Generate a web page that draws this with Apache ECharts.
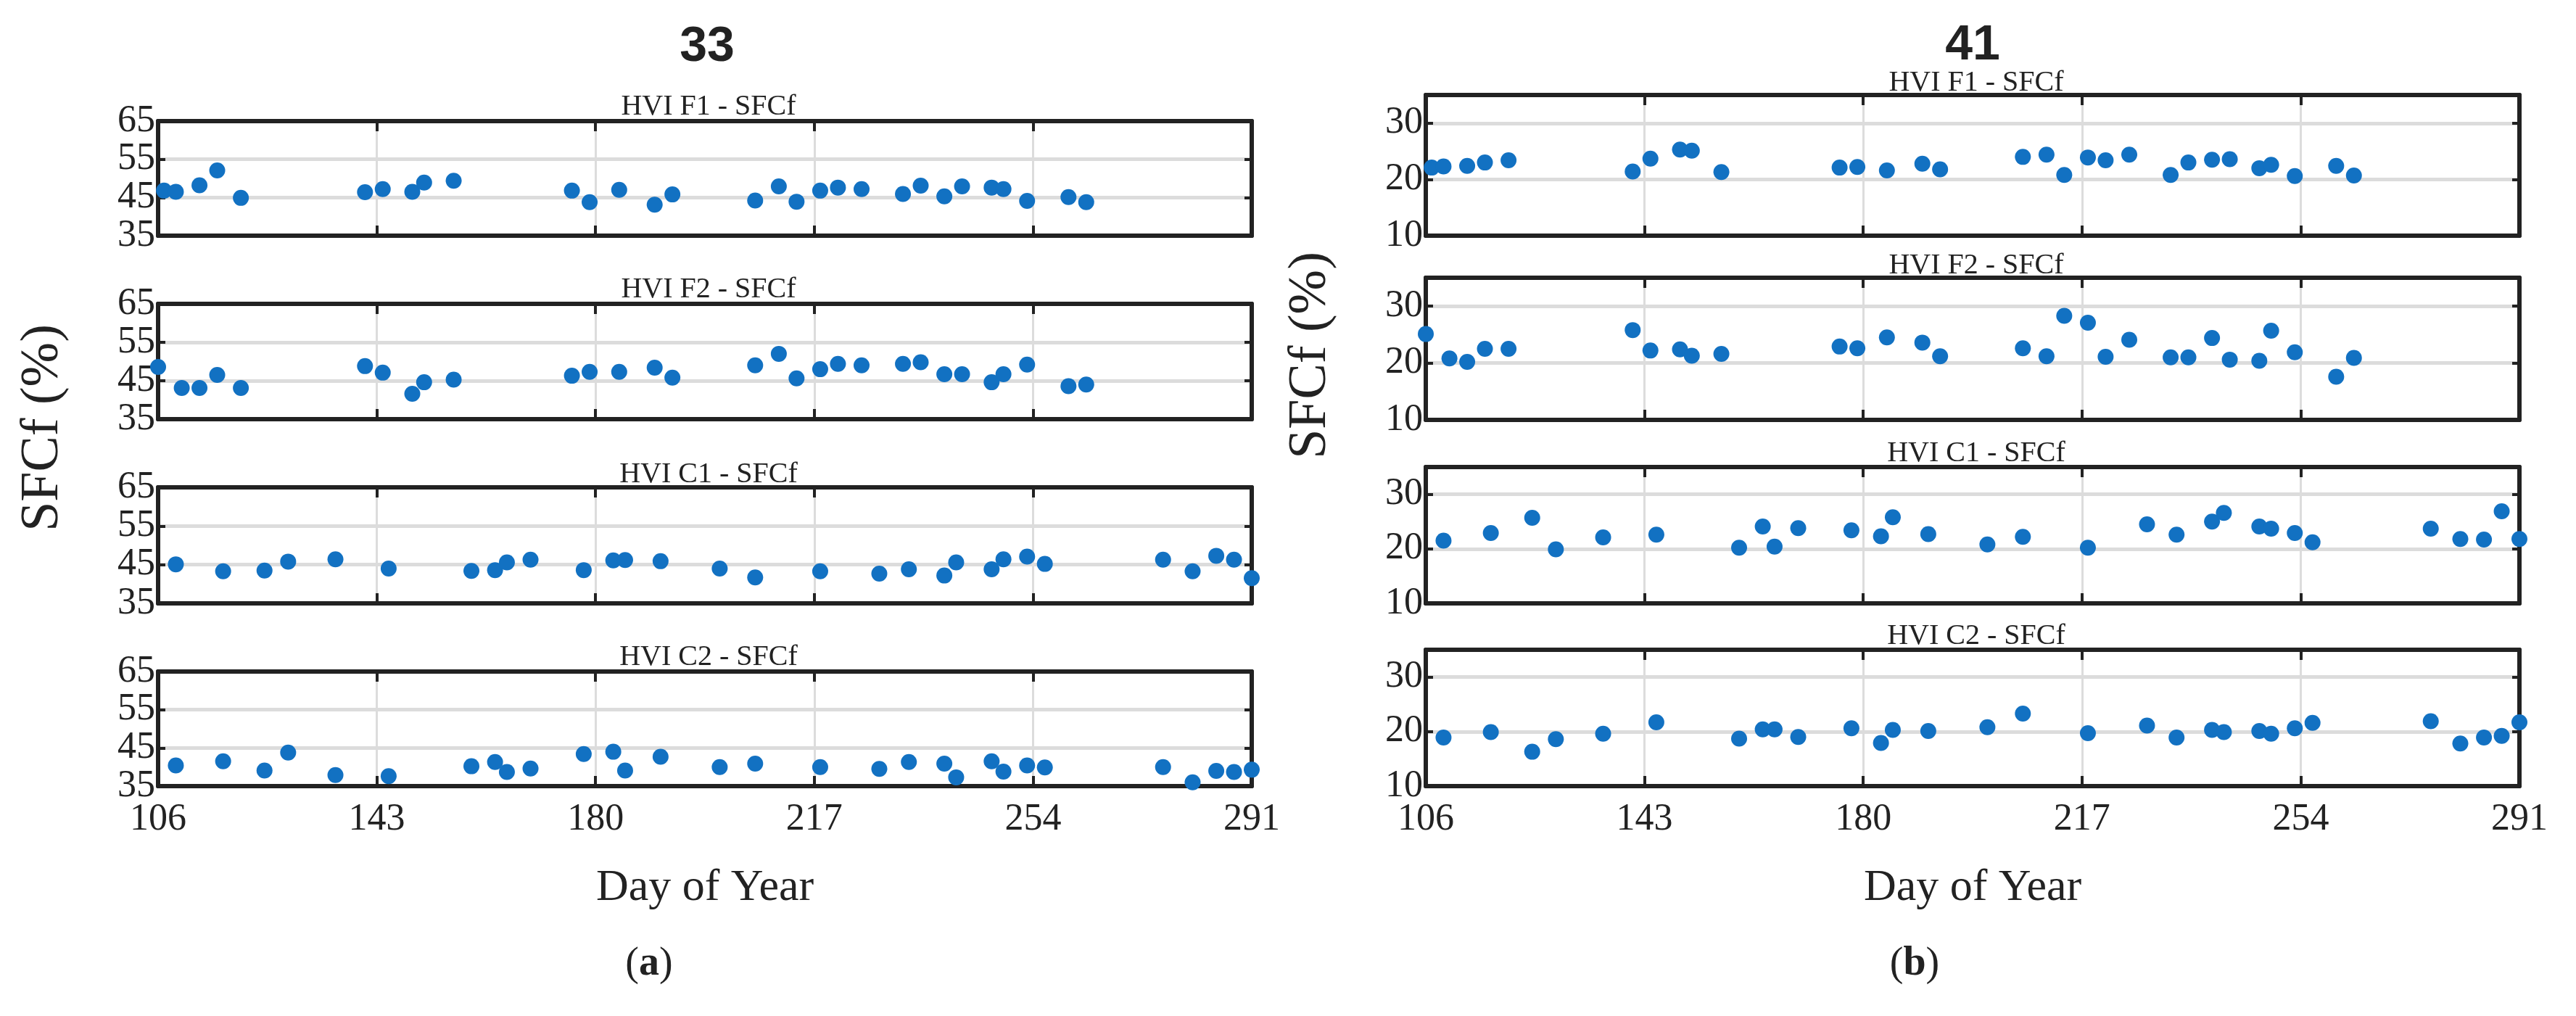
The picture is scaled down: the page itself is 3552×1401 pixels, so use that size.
<!DOCTYPE html>
<html>
<head>
<meta charset="utf-8">
<script src="https://cdn.jsdelivr.net/npm/echarts@6/dist/echarts.min.js"></script>
<style>html,body{margin:0;background:#fff}#c{width:3552px;height:1401px}</style>
</head>
<body>
<div id="c"></div>
<script>
// day of year for each series
var daysF1 = [107,109,113,116,120,141,144,149,151,156,176,179,184,190,193,207,211,214,218,221,225,232,235,239,242,247,249,253,260,263];
var daysF2 = [106,110,113,116,120,141,144,149,151,156,176,179,184,190,193,207,211,214,218,221,225,232,235,239,242,247,249,253,260,263];
var daysC = [109,117,124,128,136,145,159,163,165,169,178,183,185,191,201,207,218,228,233,239,241,247,249,253,256,276,281,285,288,291];
var xTicks = [106,143,180,217,254,291];
var panelNames = ['HVI F1 - SFCf','HVI F2 - SFCf','HVI C1 - SFCf','HVI C2 - SFCf'];

// site 33
var a_F1 = [46.8,46.5,48.2,52.1,44.9,46.4,47.2,46.5,48.9,49.4,46.8,43.8,47.0,43.1,45.8,44.2,47.9,43.9,46.8,47.6,47.2,45.9,48.1,45.3,47.9,47.6,47.2,44.1,45.1,43.8];
var a_F2 = [48.6,43.1,43.1,46.5,43.1,48.8,47.1,41.6,44.6,45.3,46.3,47.3,47.3,48.4,45.8,49.0,52.0,45.6,48.0,49.4,49.0,49.4,49.8,46.7,46.7,44.6,46.7,49.2,43.6,44.0];
var a_C1 = [45.1,43.3,43.5,45.8,46.4,44.0,43.4,43.6,45.6,46.3,43.6,46.1,46.2,45.9,44.0,41.7,43.3,42.7,43.8,42.2,45.6,43.8,46.4,47.1,45.2,46.3,43.3,47.3,46.3,41.5];
var a_C2 = [40.4,41.5,39.1,43.8,37.9,37.6,40.2,41.3,38.7,39.6,43.4,44.0,39.1,42.7,40.0,40.9,40.0,39.5,41.3,40.9,37.3,41.5,38.8,40.4,39.9,40.0,36.0,39.0,38.7,39.3];

// site 41
var b_F1 = [22.1,22.3,22.4,23.0,23.4,21.4,23.7,25.3,25.1,21.3,22.1,22.2,21.6,22.8,21.8,24.0,24.4,20.8,23.9,23.4,24.4,20.8,23.0,23.5,23.6,22.0,22.6,20.6,22.4,20.7];
var b_F2 = [25.1,20.8,20.2,22.5,22.5,25.8,22.2,22.4,21.3,21.6,22.9,22.6,24.5,23.6,21.2,22.6,21.2,28.3,27.1,21.1,24.1,21.0,21.0,24.4,20.6,20.4,25.7,21.9,17.6,20.9];
var b_C1 = [21.5,22.9,25.7,19.9,22.1,22.6,20.2,24.1,20.4,23.8,23.4,22.3,25.8,22.7,20.8,22.2,20.2,24.5,22.6,25.0,26.6,24.1,23.7,22.9,21.2,23.7,21.8,21.7,26.9,21.8];
var b_C2 = [18.9,19.9,16.3,18.6,19.6,21.7,18.7,20.4,20.4,19.0,20.6,17.9,20.3,20.1,20.8,23.3,19.7,21.1,18.9,20.3,19.9,20.1,19.6,20.6,21.6,21.9,17.8,18.9,19.2,21.7];

var serif = 'Liberation Serif';
var ink = '#222';
var panels = [
  {left: 218, right: 3552 - 1726, tops: [167,419,672,926], bottoms: [325,578,832,1084], sub: [145,397,652,904],
   min: 35, max: 65, interval: 10, data: [a_F1,a_F2,a_C1,a_C2]},
  {left: 1966, right: 3552 - 3474, tops: [131,383,644,896], bottoms: [325,579,832,1084], sub: [112,364,623,875],
   min: 10, max: 35, interval: 10, data: [b_F1,b_F2,b_C1,b_C2]}
];
var dayLists = [daysF1, daysF2, daysC, daysC];

var frame = {show: true, onZero: false, lineStyle: {color: ink, width: 6}};
var tick = {show: true, inside: true, length: 14, lineStyle: {color: ink, width: 4}};

var grids = [], xAxes = [], yAxes = [], series = [], titles = [];
panels.forEach(function (p) {
  for (var k = 0; k < 4; k++) {
    var gi = grids.length;
    grids.push({left: p.left, right: p.right, top: p.tops[k], height: p.bottoms[k] - p.tops[k]});
    var last = k === 3;
    xAxes.push({gridIndex: gi, type: 'value', min: 106, max: 291, interval: 37, z: 3,
      axisLine: frame, axisTick: tick,
      splitLine: {show: true, lineStyle: {color: '#dcdcdc', width: 3}},
      axisLabel: {show: last, color: ink, fontFamily: serif, fontSize: 52, margin: 20},
      name: last ? 'Day of Year' : '', nameLocation: 'middle', nameGap: 110,
      nameTextStyle: {color: ink, fontFamily: serif, fontSize: 62}});
    xAxes.push({gridIndex: gi, type: 'value', min: 106, max: 291, interval: 37, position: 'top', z: 3,
      axisLine: frame, axisLabel: {show: false}, splitLine: {show: false}, axisTick: tick});
    yAxes.push({gridIndex: gi, type: 'value', min: p.min, max: p.max, interval: p.interval, z: 3,
      axisLine: frame, axisTick: {show: true, inside: true, length: 10, lineStyle: {color: ink, width: 4}},
      splitLine: {show: true, lineStyle: {color: '#dcdcdc', width: 5}},
      axisLabel: {color: ink, fontFamily: serif, fontSize: 52, margin: 4,
        showMaxLabel: (p.max - p.min) % p.interval === 0}});
    yAxes.push({gridIndex: gi, type: 'value', min: p.min, max: p.max, interval: p.interval, position: 'right', z: 3,
      axisLine: frame, axisLabel: {show: false}, splitLine: {show: false},
      axisTick: {show: true, inside: true, length: 10, lineStyle: {color: ink, width: 4}}});
    var pts = dayLists[k].map(function (d, i) { return [d, p.data[k][i]]; });
    series.push({type: 'scatter', xAxisIndex: gi * 2, yAxisIndex: gi * 2, data: pts, z: 4,
      symbolSize: 22, itemStyle: {color: '#1271c2', opacity: 1}, clip: false});
    titles.push({text: panelNames[k], left: (p.left + 3552 - p.right) / 2, textAlign: 'center',
      top: p.sub[k] - 23, textStyle: {fontFamily: serif, fontWeight: 'normal', fontSize: 40, color: ink}});
  }
});

titles.push({text: '33', left: 970, textAlign: 'center', top: 26,
  textStyle: {fontFamily: 'Liberation Sans Narrow, Liberation Sans', fontWeight: 'bold', fontSize: 68, color: ink}});
titles.push({text: '41', left: 2715, textAlign: 'center', top: 24,
  textStyle: {fontFamily: 'Liberation Sans Narrow, Liberation Sans', fontWeight: 'bold', fontSize: 68, color: ink}});

function label(txt, x, y, size, rot) {
  return {type: 'text', x: x, y: y, rotation: rot || 0,
    style: {text: txt, fontFamily: serif, fontSize: size, fill: ink, align: 'center', verticalAlign: 'middle'}};
}

var chart = echarts.init(document.getElementById('c'));
chart.setOption({
  backgroundColor: '#fff',
  animation: false,
  title: titles,
  grid: grids,
  xAxis: xAxes,
  yAxis: yAxes,
  series: series,
  graphic: [
    label('SFCf (%)', 60, 590, 74, Math.PI / 2),
    label('SFCf (%)', 1808, 490, 74, Math.PI / 2),
    {type: 'text', x: 895, y: 1330, style: {text: '({b|a})', fontFamily: serif, fontSize: 56, fill: ink,
      align: 'center', verticalAlign: 'middle', rich: {b: {fontFamily: serif, fontSize: 56, fontWeight: 'bold', fill: ink}}}},
    {type: 'text', x: 2640, y: 1330, style: {text: '({b|b})', fontFamily: serif, fontSize: 56, fill: ink,
      align: 'center', verticalAlign: 'middle', rich: {b: {fontFamily: serif, fontSize: 56, fontWeight: 'bold', fill: ink}}}}
  ]
});
</script>
</body>
</html>
